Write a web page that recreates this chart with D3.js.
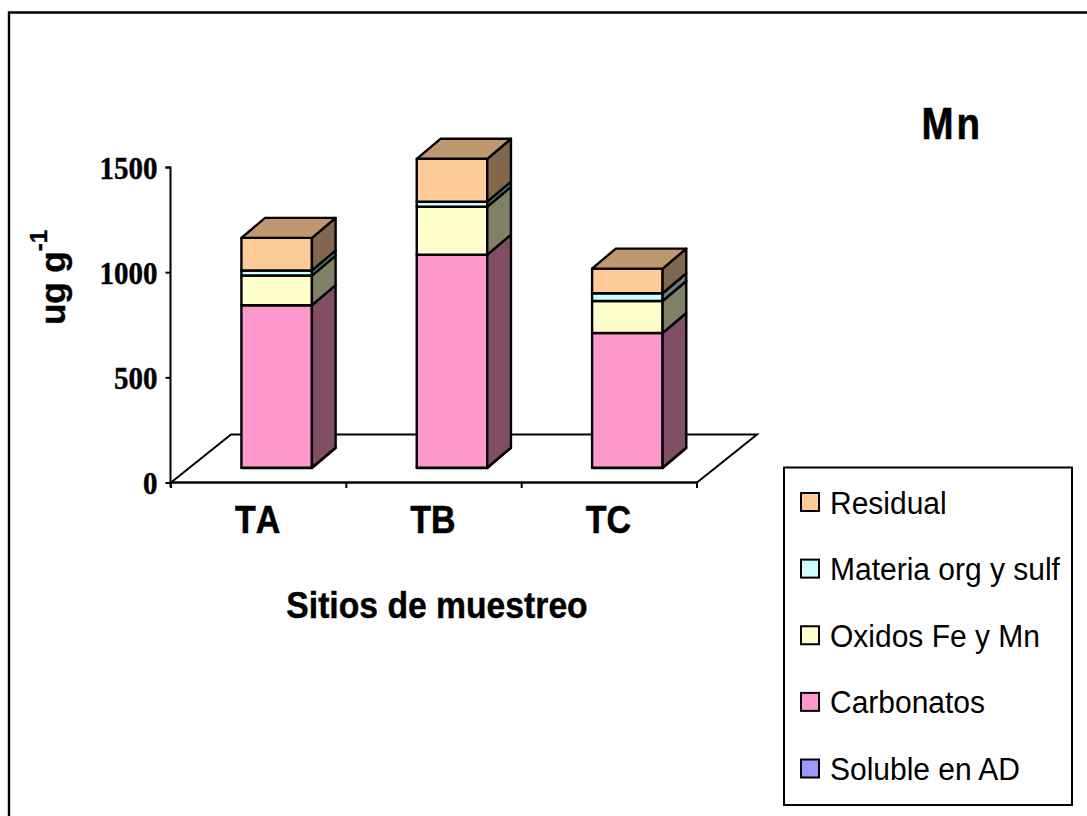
<!DOCTYPE html>
<html><head><meta charset="utf-8">
<script src="https://cdn.jsdelivr.net/npm/d3@7/dist/d3.min.js"></script>
<style>html,body{margin:0;padding:0;background:#fff;overflow:hidden}svg{display:block}</style>
</head><body><svg id="c" width="1087" height="816"></svg>
<script>
const categories = ["TA","TB","TC"];
const seriesNames = ["Soluble en AD","Carbonatos","Oxidos Fe y Mn","Materia org y sulf","Residual"];
const soluble = [2,2,2];
const carbonatos = [772,1012,640];
const oxidos = [141,228,152];
const materia = [24,24,37];
const residual = [155,204,117];
const seriesValues = [soluble,carbonatos,oxidos,materia,residual];
const colors = ["#9999ff","#ff99cc","#ffffcc","#ccffff","#ffcc99"];
const sideColors = ["#53537f","#804f66","#808066","#668080","#80674d"];
const topColors = ["#7a7acc","#cc7aa3","#cccca3","#a3cccc","#c09870"];
const yTicks = [0,500,1000,1500];

const svg = d3.select("#c");
const W=1087,H=816;
svg.append("path").attr("d",`M9,816V12.5H${W}`).attr("fill","none").attr("stroke","#000").attr("stroke-width",2.4);

const y = d3.scaleLinear().domain([0,1500]).range([482.5,167]);
const x = d3.scaleBand().domain(categories).range([171,697]);
const depth = {dx:60,dy:48};
const bw = 70.5, gdx=23.7, gdy=20;
const frontDx=18, frontDy=14.5;

// floor
svg.append("path").attr("d",`M${x.range()[0]},482.5L${x.range()[0]+depth.dx},${482.5-depth.dy}H${x.range()[1]+depth.dx}L${x.range()[1]},482.5`)
  .attr("fill","none").attr("stroke","#000").attr("stroke-width",2);

// axes
const yAxis = d3.axisLeft(y).tickValues(yTicks).tickSize(5).tickFormat(d3.format("d"));
const gy = svg.append("g").attr("transform","translate(170.5,0)").call(yAxis);
gy.selectAll("path").attr("d","M-5,167.5H0V487").attr("fill","none").attr("stroke","#000").attr("stroke-width",2);
gy.selectAll("line").attr("stroke","#000").attr("stroke-width",2);
gy.selectAll("text").attr("font-family","'Liberation Serif'").attr("font-weight","bold").attr("font-size",29).attr("fill","#000")
  .attr("stroke","#000").attr("stroke-width",0.4)
  .attr("x",-13).attr("dy",0).attr("y",10).attr("transform","scale(1,1.1)");

const xAxis = d3.axisBottom(x).tickSize(0);
const gx = svg.append("g").attr("transform","translate(0,482.5)").call(xAxis);
gx.selectAll("path").attr("d",`M171,0H697`).attr("stroke","#000").attr("stroke-width",2.6);
gx.selectAll("text").attr("font-family","'Liberation Sans'").attr("font-weight","bold").attr("font-size",34).attr("fill","#000")
  .attr("stroke","#000").attr("stroke-width",0.5)
  .attr("x",-1).attr("dy",0).attr("y",51/1.15).attr("transform","scale(1,1.15)").style("font-kerning","none");
// category boundary ticks
const edges = [...categories.map(c=>x(c)), x.range()[1]];
svg.append("g").selectAll("line").data(edges).join("line")
  .attr("x1",d=>d).attr("x2",d=>d).attr("y1",482.5).attr("y2",488).attr("stroke","#000").attr("stroke-width",2);

// stacked 3D bars
const stack = categories.map((c,i)=>{let acc=0;return seriesValues.map((s,k)=>{const v={c,k,y0:acc,y1:acc+s[i]};acc+=s[i];return v;});});
const gb = svg.append("g").attr("stroke","#000").attr("stroke-width",2.4).attr("stroke-linejoin","round");
const left = c => x(c)+x.bandwidth()/2+frontDx-bw/2;
const py = v => y(v)-frontDy;
stack.forEach(col=>{
  col.forEach(d=>{
    const l=left(d.c), r=l+bw, t=py(d.y1), b=py(d.y0);
    gb.append("rect").attr("x",l).attr("y",t).attr("width",bw).attr("height",b-t).attr("fill",colors[d.k]);
    gb.append("path").attr("d",`M${r},${b}L${r+gdx},${b-gdy}V${t-gdy}L${r},${t}Z`).attr("fill",sideColors[d.k]);
  });
  const d=col[col.length-1], l=left(d.c), r=l+bw, t=py(d.y1);
  gb.append("path").attr("d",`M${l},${t}L${l+gdx},${t-gdy}H${r+gdx}L${r},${t}Z`).attr("fill",topColors[d.k]);
});

// titles
const sans="'Liberation Sans'";
svg.append("text").attr("transform","translate(921.5,138.5) scale(1,1.17)").attr("font-family",sans).attr("font-weight","bold").attr("font-size",38.5).attr("letter-spacing",3).attr("stroke","#000").attr("stroke-width",0.5).text("Mn");
svg.append("text").attr("transform","translate(437,618) scale(1,1.12)").attr("text-anchor","middle").attr("font-family",sans).attr("font-weight","bold").attr("font-size",33.7).attr("stroke","#000").attr("stroke-width",0.4).text("Sitios de muestreo");
const yt = svg.append("text").attr("transform","translate(64.5,277.5) rotate(-90)").attr("text-anchor","middle").attr("font-family",sans).attr("font-weight","bold").attr("font-size",35).attr("stroke","#000").attr("stroke-width",0.4);
yt.append("tspan").text("ug g");
yt.append("tspan").attr("font-size",24).attr("dy",-18).text("-1");

// legend
svg.append("rect").attr("x",784).attr("y",467.5).attr("width",288).attr("height",337.5).attr("fill","#fff").attr("stroke","#000").attr("stroke-width",2);
const legendOrder = d3.range(seriesNames.length).reverse();
const ly = d3.scalePoint().domain(legendOrder).range([502,768.5]);
const lg = svg.append("g").selectAll("g").data(legendOrder).join("g").attr("transform",k=>`translate(0,${ly(k)})`);
lg.append("rect").attr("x",801).attr("y",-9).attr("width",18).attr("height",18).attr("fill",k=>colors[k]).attr("stroke","#000").attr("stroke-width",2);
lg.append("text").attr("transform","translate(830,11.6) scale(1,1.07)").attr("font-family",sans).attr("font-size",30).text(k=>seriesNames[k]);
</script></body></html>
